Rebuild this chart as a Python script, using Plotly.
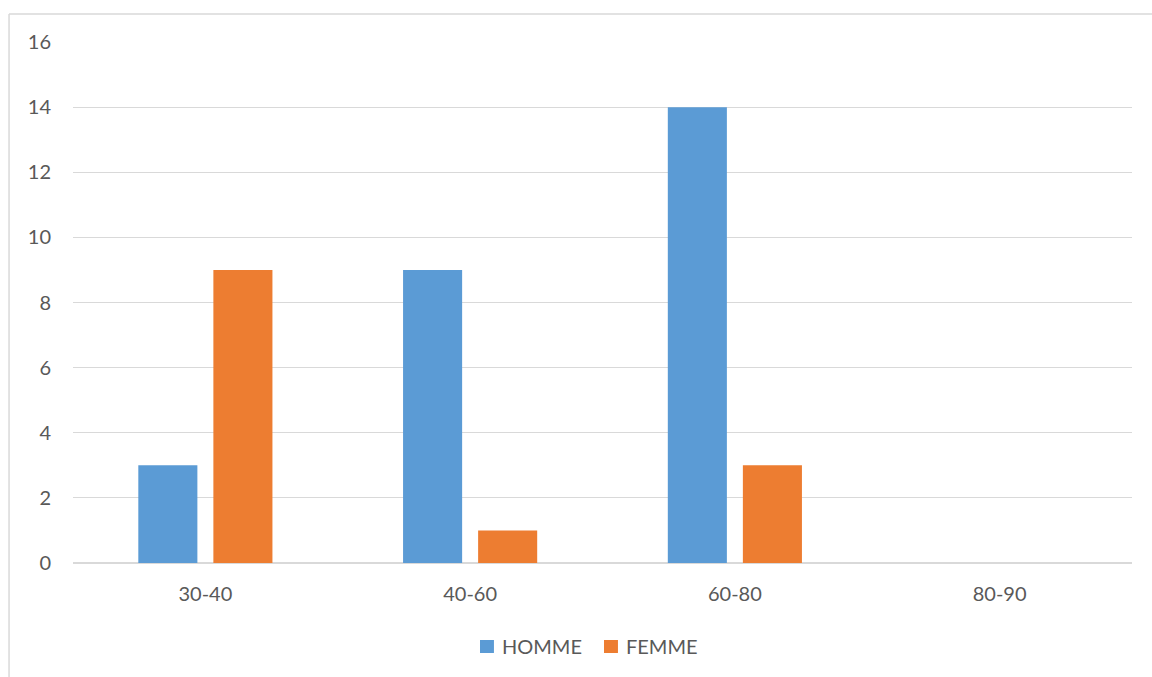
import plotly.graph_objects as go

categories = ["30-40", "40-60", "60-80", "80-90"]
homme = [3, 9, 14, 0]
femme = [9, 1, 3, 0]
y_ticks = [0, 2, 4, 6, 8, 10, 12, 14, 16]
series_names = ["HOMME", "FEMME"]
series_colors = ["#5B9BD5", "#ED7D31"]

TEXT = "#595959"
GRID = "#D9D9D9"
FONT = "Lato"
SIZE = 20

fig = go.Figure()
for name, vals, col in zip(series_names, [homme, femme], series_colors):
    fig.add_trace(go.Bar(name=name, x=categories, y=vals, showlegend=False,
                         marker=dict(color=col, line=dict(width=0))))

# outer chart frame (left and top edges)
fx, fy = -0.0604, 1.0537
fig.add_shape(type="line", xref="paper", yref="paper", x0=fx, x1=fx, y0=-0.3, y1=fy,
              line=dict(color="#D9D9D9", width=1.5))
fig.add_shape(type="line", xref="paper", yref="paper", x0=fx, x1=1.1, y0=fy, y1=fy,
              line=dict(color="#D9D9D9", width=1.5))

# legend: square swatch + label for each series
legend_x = [0.3843, 0.5014]
sw = 0.0132
ly0, ly1 = -0.1727, -0.1478
for name, col, lx in zip(series_names, series_colors, legend_x):
    fig.add_shape(type="rect", xref="paper", yref="paper", x0=lx, x1=lx + sw, y0=ly0, y1=ly1,
                  fillcolor=col, line=dict(width=0))
    fig.add_annotation(xref="paper", yref="paper", x=lx + sw + 0.0055, y=(ly0 + ly1) / 2,
                       xanchor="left", yanchor="middle", text=name, showarrow=False,
                       font=dict(family=FONT, size=SIZE, color=TEXT))

fig.update_layout(
    width=1152, height=677,
    margin=dict(l=73, r=20, t=42, b=114),
    paper_bgcolor="white", plot_bgcolor="white",
    barmode="group", bargap=0.433, bargroupgap=0.213,
    font=dict(family=FONT, size=SIZE, color=TEXT),
    showlegend=False,
    xaxis=dict(showgrid=False, showline=False, zeroline=False, ticks="",
               ticklabelstandoff=17, tickfont=dict(size=SIZE, color=TEXT)),
    yaxis=dict(range=[0, 16], tickvals=y_ticks, showgrid=True, gridcolor=GRID, gridwidth=1.3,
               zeroline=True, zerolinecolor=GRID, zerolinewidth=1.5, showline=False, ticks="",
               ticklabelstandoff=21, tickfont=dict(size=SIZE, color=TEXT)),
)

fig.write_html("out.html")
